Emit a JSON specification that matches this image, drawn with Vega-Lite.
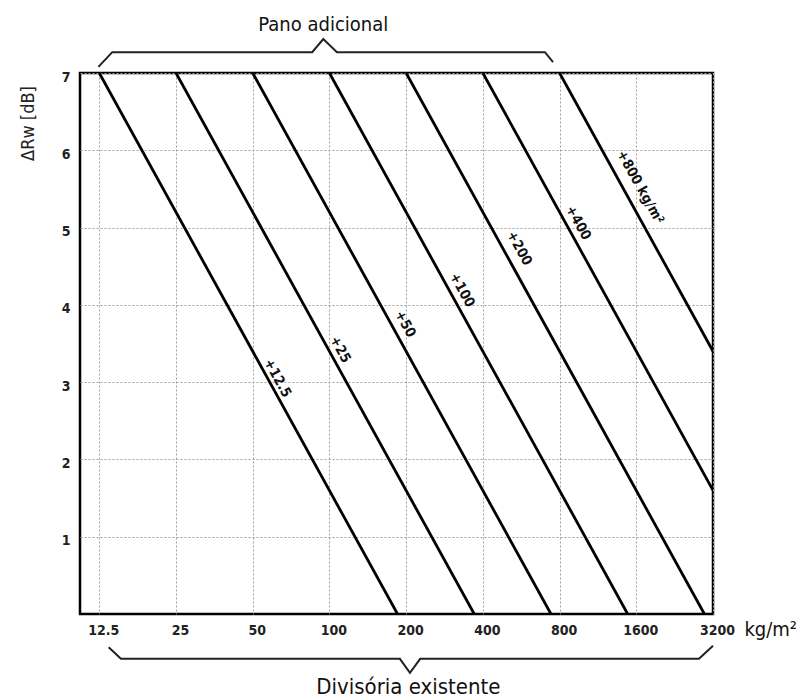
{
  "$schema": "https://vega.github.io/schema/vega-lite/v6.json",
  "autosize": "none",
  "width": 633,
  "height": 541,
  "padding": {"left": 80, "top": 73, "right": 91, "bottom": 85},
  "background": "white",
  "config": {
    "font": "DejaVu Sans Condensed, Liberation Sans, sans-serif",
    "view": {"stroke": "black", "strokeWidth": 2.5}
  },
  "datasets": {
    "lines": [
      {"s": "+12.5", "m": 12.5, "r": 7}, {"s": "+12.5", "m": 185, "r": 0},
      {"s": "+25", "m": 25, "r": 7}, {"s": "+25", "m": 370, "r": 0},
      {"s": "+50", "m": 50, "r": 7}, {"s": "+50", "m": 740, "r": 0},
      {"s": "+100", "m": 100, "r": 7}, {"s": "+100", "m": 1480, "r": 0},
      {"s": "+200", "m": 200, "r": 7}, {"s": "+200", "m": 2960, "r": 0},
      {"s": "+400", "m": 400, "r": 7}, {"s": "+400", "m": 3200, "r": 1.6},
      {"s": "+800", "m": 800, "r": 7}, {"s": "+800", "m": 3200, "r": 3.4}
    ],
    "labels": [
      {"t": "+12.5", "m": 62.4, "r": 3.05},
      {"t": "+25", "m": 110, "r": 3.42},
      {"t": "+50", "m": 198, "r": 3.75},
      {"t": "+100", "m": 331, "r": 4.19},
      {"t": "+200", "m": 555, "r": 4.73},
      {"t": "+400", "m": 945, "r": 5.06},
      {"t": "+800 kg/m²", "m": 1656, "r": 5.52}
    ],
    "braces": [
      {"b": "top", "o": 1, "m": 12.4, "r": 7.08},
      {"b": "top", "o": 2, "m": 14.05, "r": 7.27},
      {"b": "top", "o": 3, "m": 85.6, "r": 7.27},
      {"b": "top", "o": 4, "m": 94.6, "r": 7.44},
      {"b": "top", "o": 5, "m": 107, "r": 7.27},
      {"b": "top", "o": 6, "m": 701, "r": 7.27},
      {"b": "top", "o": 7, "m": 754, "r": 7.14},
      {"b": "bottom", "o": 1, "m": 13.6, "r": -0.43},
      {"b": "bottom", "o": 2, "m": 15.2, "r": -0.58},
      {"b": "bottom", "o": 3, "m": 189, "r": -0.58},
      {"b": "bottom", "o": 4, "m": 207, "r": -0.76},
      {"b": "bottom", "o": 5, "m": 227, "r": -0.58},
      {"b": "bottom", "o": 6, "m": 2820, "r": -0.58},
      {"b": "bottom", "o": 7, "m": 3200, "r": -0.41}
    ],
    "titles": [
      {"t": "Pano adicional", "m": 94.6, "r": 7.62, "fs": 20},
      {"t": "Divisória existente", "m": 204, "r": -0.94, "fs": 22}
    ],
    "unit": [
      {"t": "kg/m²", "m": 4250, "r": -0.21}
    ]
  },
  "encoding": {
    "x": {
      "field": "m", "type": "quantitative",
      "scale": {"type": "log", "base": 2, "domain": [10.5, 3200], "nice": false, "zero": false},
      "axis": {
        "title": null,
        "values": [12.5, 25, 50, 100, 200, 400, 800, 1600, 3200],
        "labelExpr": "'' + datum.value",
        "domain": false, "ticks": false,
        "grid": true, "gridColor": "#a0a0a0", "gridDash": [2, 2], "gridWidth": 1,
        "labelFont": "DejaVu Sans Condensed",
        "labelFontSize": 14, "labelFontWeight": "bold", "labelColor": "#222",
        "labelPadding": 9, "labelOffset": 4, "labelFlush": false
      }
    },
    "y": {
      "field": "r", "type": "quantitative",
      "scale": {"domain": [0, 7], "nice": false},
      "axis": {
        "title": "ΔRw [dB]",
        "values": [1, 2, 3, 4, 5, 6, 7],
        "domain": false, "ticks": false,
        "grid": true, "gridColor": "#a0a0a0", "gridDash": [2, 2], "gridWidth": 1,
        "labelFont": "DejaVu Sans Condensed",
        "labelFontSize": 14, "labelFontWeight": "bold", "labelColor": "#222",
        "labelPadding": 10, "labelOffset": 4,
        "titleFont": "DejaVu Sans Condensed",
        "titleFontSize": 18, "titleFontWeight": "normal", "titleColor": "#222",
        "titleAlign": "center", "titlePadding": 24, "titleY": 50
      }
    }
  },
  "layer": [
    {
      "data": {"name": "lines"},
      "mark": {"type": "line", "color": "black", "strokeWidth": 2.8, "clip": true},
      "encoding": {"detail": {"field": "s"}}
    },
    {
      "data": {"name": "labels"},
      "mark": {"type": "text", "angle": 61, "fontSize": 14, "fontWeight": "bold", "color": "#111", "align": "center", "baseline": "middle"},
      "encoding": {"text": {"field": "t"}}
    },
    {
      "data": {"name": "braces"},
      "mark": {"type": "line", "color": "#222", "strokeWidth": 2, "clip": false},
      "encoding": {"detail": {"field": "b"}, "order": {"field": "o"}}
    },
    {
      "data": {"name": "titles"},
      "mark": {"type": "text", "color": "#111", "align": "center", "baseline": "middle", "clip": false},
      "encoding": {"text": {"field": "t"}, "size": {"field": "fs", "type": "quantitative", "scale": null}}
    },
    {
      "data": {"name": "unit"},
      "mark": {"type": "text", "fontSize": 20, "color": "#111", "align": "left", "baseline": "middle", "clip": false},
      "encoding": {"text": {"field": "t"}}
    }
  ]
}
